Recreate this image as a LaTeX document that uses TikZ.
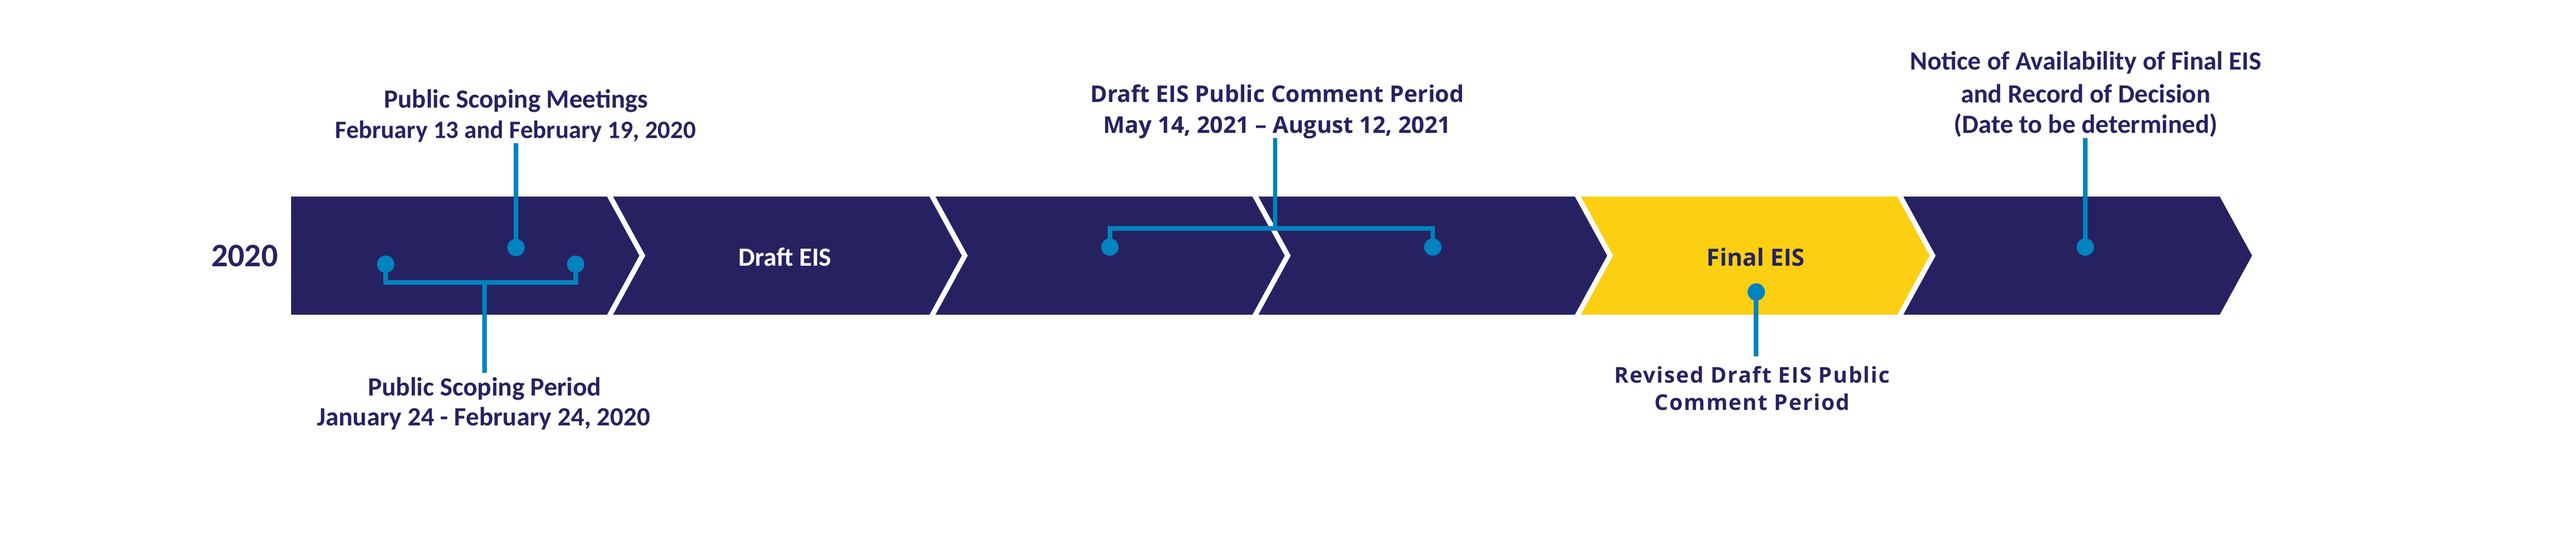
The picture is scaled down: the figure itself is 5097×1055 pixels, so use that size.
\documentclass[tikz,border=0pt]{standalone}
\usepackage{fontspec}
\newfontfamily\calfont{Carlito}
\newfontfamily\opfont{Open Sans}
\newfontfamily\opwide{Open Sans}[LetterSpace=5]
\definecolor{navy}{RGB}{38,34,98}
\definecolor{lblue}{RGB}{0,131,190}
\definecolor{gold}{RGB}{252,207,18}
\begin{document}
\begin{tikzpicture}[x=0.2pt,y=-0.2pt,
  segn/.style={fill=navy},
  segy/.style={fill=gold},
  conn/.style={draw=lblue,line width=1.8pt},
  dotn/.style={circle,fill=lblue,inner sep=0pt,minimum size=6.8pt},
  cal/.style={font=\calfont\bfseries\fontsize{10.4}{12}\selectfont,text=navy,anchor=base,inner sep=0pt},
  ops/.style={font=\opfont\bfseries\fontsize{9.1}{11}\selectfont,text=navy,anchor=base,inner sep=0pt},
  opw/.style={font=\opwide\bfseries\fontsize{8.6}{10}\selectfont,text=navy,anchor=base,inner sep=0pt}]
\useasboundingbox[fill=white] (0,0) rectangle (5097,1055);
% chevron segments
\path[segn] (576,389) -- (1201,389) -- (1265,506) -- (1201,623) -- (576,623) -- cycle;
\path[segn] (1213,389) -- (1839,389) -- (1903,506) -- (1839,623) -- (1213,623) -- (1277,506) -- cycle;
\path[segn] (1851,389) -- (2478,389) -- (2542,506) -- (2478,623) -- (1851,623) -- (1915,506) -- cycle;
\path[segn] (2490,389) -- (3116,389) -- (3180,506) -- (3116,623) -- (2490,623) -- (2554,506) -- cycle;
\path[segy] (3128,389) -- (3754,389) -- (3818,506) -- (3754,623) -- (3128,623) -- (3192,506) -- cycle;
\path[segn] (3766,389) -- (4392,389) -- (4456,506) -- (4392,623) -- (3766,623) -- (3830,506) -- cycle;
% segment labels
\node[cal,font=\calfont\bfseries\fontsize{13}{15}\selectfont] (yr) at (484,528) {2020};
\node[cal,text=white,font=\calfont\bfseries\fontsize{10.4}{12}\selectfont] (deis) at (1553,527) {Draft EIS};
\node[ops,font=\opfont\bfseries\fontsize{9.4}{11}\selectfont] (feis) at (3474,526) {Final EIS};
% callout labels
\node[cal] (mtgA) at (1021,214) {Public Scoping Meetings};
\node[cal,font=\calfont\bfseries\fontsize{9.9}{12}\selectfont] (mtgB) at (1020,274) {February 13 and February 19, 2020};
\node[cal] (perA) at (959,783) {Public Scoping Period};
\node[cal] (perB) at (957,843) {January 24 - February 24, 2020};
\node[ops] (dcA) at (2527,202) {Draft EIS Public Comment Period};
\node[ops] (dcB) at (2527,263) {May 14, 2021 – August 12, 2021};
\node[opw] (rvA) at (3467,758) {Revised Draft EIS Public};
\node[opw] (rvB) at (3467,812) {Comment Period};
\node[cal] (noA) at (4127,138) {Notice of Availability of Final EIS};
\node[cal] (noB) at (4127,203) {and Record of Decision};
\node[cal] (noC) at (4127,264) {(Date to be determined)};
% dots
\node[dotn] (d1) at (763,523) {};
\node[dotn] (d2) at (1139,523) {};
\node[dotn] (d3) at (1021,490) {};
\node[dotn] (d4) at (2196,489) {};
\node[dotn] (d5) at (2835,489) {};
\node[dotn] (d6) at (3475,578) {};
\node[dotn] (d7) at (4126,489) {};
% connector ends
\coordinate (b1) at (959,559);
\coordinate (e1) at (959,738);
\coordinate (e3) at (1021,283);
\coordinate (b2) at (2523,452);
\coordinate (e2) at (2523,273);
\coordinate (e6) at (3475,705);
\coordinate (e7) at (4126,273);
% connectors
\draw[conn] (d1.center) -- (d1.center |- b1) -- (d2.center |- b1) -- (d2.center);
\draw[conn] (b1) -- (e1);
\draw[conn] (d3.center) -- (e3);
\draw[conn] (d4.center) -- (d4.center |- b2) -- (d5.center |- b2) -- (d5.center);
\draw[conn] (b2) -- (e2);
\draw[conn] (d6.center) -- (e6);
\draw[conn] (d7.center) -- (e7);
% dots on top of the connectors
\foreach \n in {d1,d2,d3,d4,d5,d6,d7} \fill[lblue] (\n.center) circle[radius=3.4pt];
\end{tikzpicture}
\end{document}
